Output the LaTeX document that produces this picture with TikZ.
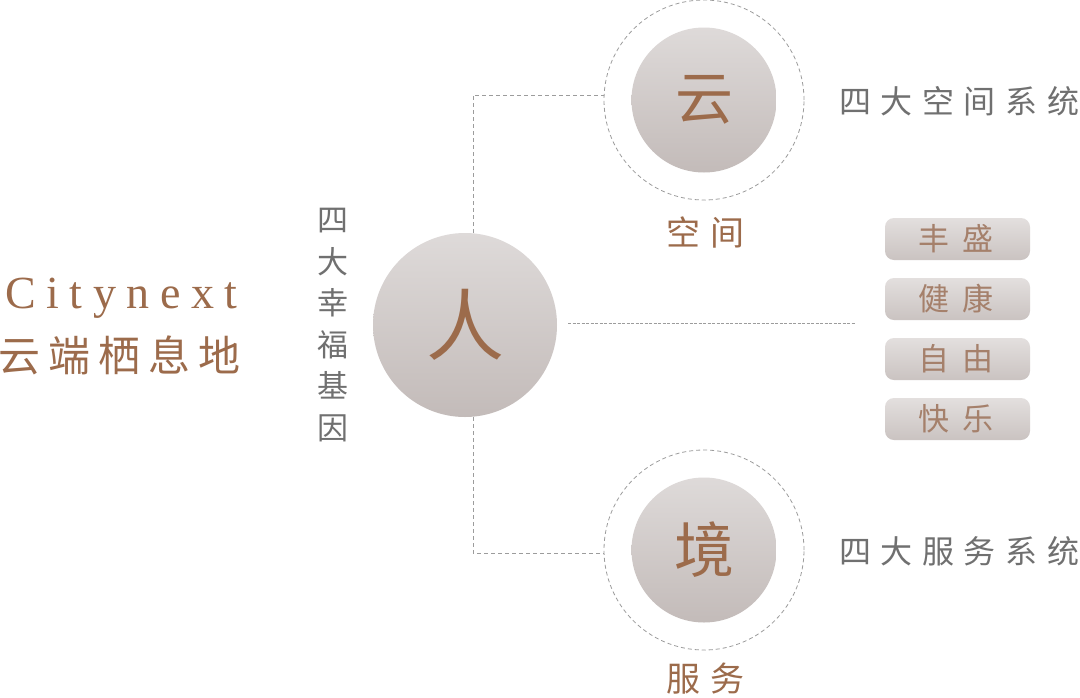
\documentclass[tikz,border=0pt]{standalone}
\usepackage{fontspec}
\newfontfamily\cjk{Noto Sans CJK SC}
\newfontfamily\titlefont{Liberation Serif}[LetterSpace=23]
\definecolor{txtbrown}{HTML}{9C6B4B}
\definecolor{pilltxt}{HTML}{A5806B}
\definecolor{graytxt}{HTML}{707070}
\definecolor{ringgray}{HTML}{9C9C9C}
\definecolor{balltop}{HTML}{DEDAD9}
\definecolor{ballbot}{HTML}{C3BBB9}
\definecolor{pilltop}{HTML}{E3DFDE}
\definecolor{pillbot}{HTML}{CAC3C1}
\tikzset{
  ball/.style={circle, minimum size=#1, inner sep=0pt, top color=balltop, bottom color=ballbot, text=txtbrown},
  ring/.style={circle, draw=ringgray, dash pattern=on 4pt off 3pt, line width=0.8pt, minimum size=200pt, inner sep=0pt},
  pill/.style={rounded corners=9pt, minimum width=145pt, minimum height=42pt, inner sep=0pt, top color=pilltop, bottom color=pillbot},
  pilltext/.style={text=pilltxt, inner sep=0pt, font=\cjk\fontsize{31}{31}\selectfont\addfontfeatures{LetterSpace=42}},
  conn/.style={draw=ringgray, line width=0.8pt, dash pattern=on 4pt off 3pt},
  fineconn/.style={draw=ringgray, line width=0.6pt, dash pattern=on 3pt off 1.5pt},
  grayline/.style={text=graytxt, inner sep=0pt, font=\cjk\fontsize{32}{32}\selectfont\addfontfeatures{LetterSpace=30}},
  caption/.style={text=txtbrown, inner sep=0pt, font=\cjk\fontsize{34}{34}\selectfont\addfontfeatures{LetterSpace=29}}
}
\begin{document}
\begin{tikzpicture}[x=1pt,y=-1pt]
\useasboundingbox[fill=white] (0,0) rectangle (1080,697);
% left title
\node[anchor=base west, inner sep=0pt, text=txtbrown, font=\titlefont\fontsize{46}{46}\selectfont] (title) at (5,308) {Citynext};
\node[anchor=west, inner sep=0pt, text=txtbrown, font=\cjk\fontsize{42}{42}\selectfont\addfontfeatures{LetterSpace=19}] (subtitle) at (-2,355) {云端栖息地};
% vertical text
\node[align=center, inner sep=0pt, text=graytxt, font=\cjk\fontsize{31}{41.5}\selectfont] (gene) at (333,325) {四\\大\\幸\\福\\基\\因};
% central ball
\node[ball=184pt, font=\cjk\fontsize{78}{78}\selectfont] (ren) at (465,325) {人};
% top
\node[ring] (yunring) at (704,100) {};
\node[ball=145pt, font=\cjk\fontsize{58}{58}\selectfont] (yun) at (704,100) {云};
\node[caption, anchor=west] (kongjian) at (666,232) {空间};
\node[grayline, anchor=west] (sys1) at (839,101) {四大空间系统};
% bottom
\node[ring] (jingring) at (704,550) {};
\node[ball=145pt, font=\cjk\fontsize{60}{60}\selectfont] (jing) at (704,550) {境};
\node[caption, anchor=west] (fuwu) at (666,679) {服务};
\node[grayline, anchor=west] (sys2) at (839,551) {四大服务系统};
% pills
\foreach \y/\t/\n in {239/丰盛/p1, 299/健康/p2, 359/自由/p3, 419/快乐/p4}{
  \node[pill] (\n) at (957.5,\y) {};
  \node[pilltext, anchor=west] at (918,\y) {\t};
}
% connectors
\coordinate (tc) at (473,95);
\coordinate (bc) at (473,553);
\coordinate (m1) at (568,323);
\coordinate (m2) at (856,323);
\draw[conn] (tc |- ren.north) -- (tc) -- (tc -| yunring.west);
\draw[conn] (bc |- ren.south) -- (bc) -- (bc -| jingring.west);
\draw[fineconn] (m1) -- (m2);
\end{tikzpicture}
\end{document}
